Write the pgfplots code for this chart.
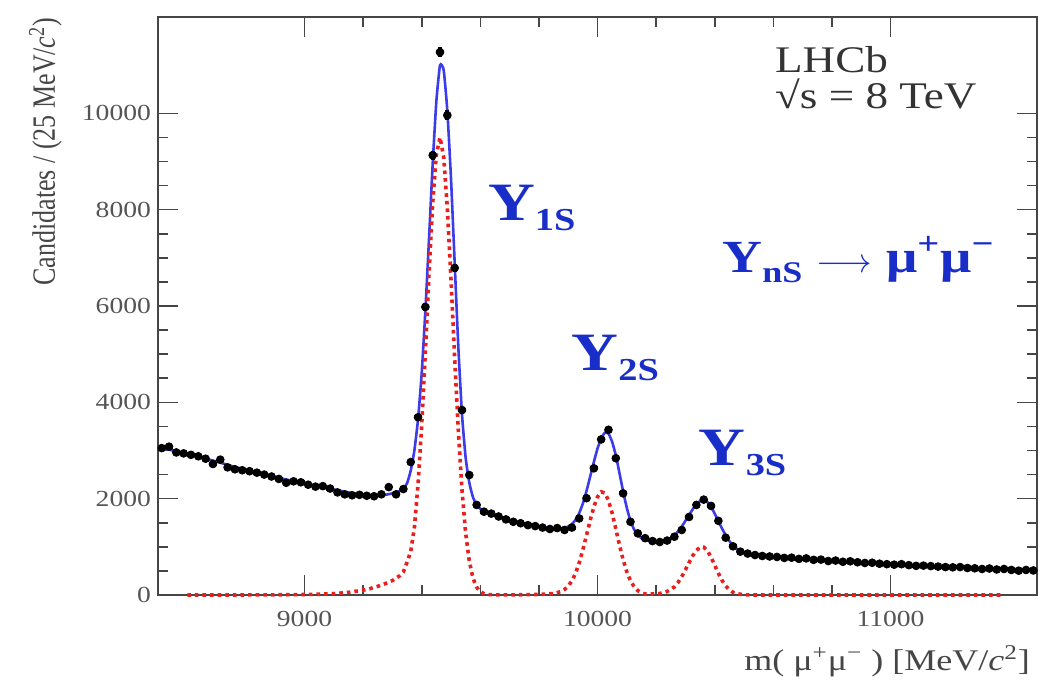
\documentclass[border=0pt]{standalone}
\usepackage{pgfplots}
\pgfplotsset{compat=1.18}
\usepackage{pgfplotstable}
\usepackage{graphicx}
\usepackage{fontspec}
\setmainfont{Liberation Serif}[FakeStretch=1.2]
\newfontfamily\plainserif{Liberation Serif}

\definecolor{fitblue}{RGB}{60,60,235}
\definecolor{labblue}{RGB}{25,45,200}
\definecolor{sigred}{RGB}{235,30,30}
\definecolor{axgray}{RGB}{70,70,70}
\definecolor{tickgray}{RGB}{85,85,85}
\definecolor{labgray}{RGB}{70,70,70}

\pgfplotstableread{
m n
8512.5 3050
8537.5 3080
8562.5 2960
8587.5 2940
8612.5 2910
8637.5 2880
8662.5 2830
8687.5 2720
8712.5 2810
8737.5 2650
8762.5 2610
8787.5 2590
8812.5 2570
8837.5 2540
8862.5 2500
8887.5 2460
8912.5 2410
8937.5 2330
8962.5 2360
8987.5 2340
9012.5 2290
9037.5 2250
9062.5 2260
9087.5 2210
9112.5 2130
9137.5 2090
9162.5 2070
9187.5 2080
9212.5 2060
9237.5 2050
9262.5 2090
9287.5 2240
9312.5 2090
9337.5 2200
9362.5 2760
9387.5 3690
9412.5 5980
9437.5 9130
9462.5 11270
9487.5 9960
9512.5 6790
9537.5 3840
9562.5 2490
9587.5 1870
9612.5 1730
9637.5 1690
9662.5 1630
9687.5 1570
9712.5 1520
9737.5 1490
9762.5 1450
9787.5 1430
9812.5 1400
9837.5 1370
9862.5 1390
9887.5 1350
9912.5 1400
9937.5 1590
9962.5 2010
9987.5 2630
10012.5 3230
10037.5 3430
10062.5 2840
10087.5 2110
10112.5 1520
10137.5 1280
10162.5 1180
10187.5 1120
10212.5 1100
10237.5 1130
10262.5 1210
10287.5 1350
10312.5 1620
10337.5 1870
10362.5 1980
10387.5 1850
10412.5 1540
10437.5 1190
10462.5 1010
10487.5 900
10512.5 860
10537.5 830
10562.5 810
10587.5 800
10612.5 790
10637.5 770
10662.5 775
10687.5 750
10712.5 760
10737.5 730
10762.5 735
10787.5 705
10812.5 715
10837.5 690
10862.5 700
10887.5 680
10912.5 665
10937.5 670
10962.5 650
10987.5 640
11012.5 630
11037.5 640
11062.5 620
11087.5 605
11112.5 610
11137.5 600
11162.5 590
11187.5 580
11212.5 575
11237.5 580
11262.5 560
11287.5 555
11312.5 540
11337.5 550
11362.5 530
11387.5 540
11412.5 520
11437.5 505
11462.5 520
11487.5 510
}\datatab

\pgfplotstableread{
m f
8500 3070
8550 3000
8600 2930
8650 2850
8700 2770
8750 2680
8800 2600
8850 2520
8900 2450
8950 2380
9000 2320
9050 2250
9100 2190
9150 2130
9200 2090
9250 2070
9275 2080
9300 2110
9325 2160
9337.5 2210
9350 2320
9362.5 2580
9375 3000
9387.5 3650
9400 4600
9412.5 5900
9425 7400
9437.5 8950
9450 10250
9462.5 11000
9475 10900
9487.5 10050
9500 8650
9512.5 6900
9525 5150
9537.5 3750
9550 2850
9562.5 2330
9575 2030
9587.5 1870
9600 1790
9625 1700
9650 1640
9700 1550
9750 1480
9800 1420
9850 1390
9875 1385
9900 1420
9912.5 1470
9925 1560
9937.5 1700
9950 1900
9962.5 2160
9975 2460
9987.5 2760
10000 3040
10012.5 3250
10025 3370
10037.5 3350
10050 3180
10062.5 2900
10075 2530
10087.5 2150
10100 1810
10112.5 1540
10125 1360
10137.5 1250
10150 1180
10175 1120
10200 1100
10225 1120
10250 1180
10262.5 1240
10275 1320
10287.5 1420
10300 1540
10312.5 1660
10325 1780
10337.5 1880
10350 1950
10362.5 1970
10375 1930
10387.5 1830
10400 1690
10412.5 1530
10425 1380
10437.5 1240
10450 1120
10462.5 1030
10475 960
10500 880
10550 810
10600 780
10700 750
10800 710
10900 675
11000 640
11100 610
11200 585
11300 560
11400 535
11500 510
}\fittab

\pgfplotstableread{
m s
8600 0
8700 0
8800 1
8900 4
9000 10
9050 16
9100 28
9150 55
9200 100
9225 135
9250 180
9275 235
9300 300
9325 400
9337.5 480
9350 680
9362.5 900
9375 1400
9387.5 2300
9400 3520
9412.5 5045
9425 6670
9437.5 8135
9450 9150
9462.5 9500
9475 9095
9487.5 8030
9500 6545
9512.5 4915
9525 3410
9537.5 2180
9550 1285
9562.5 700
9575 351
9587.5 163
9600 70
9612.5 27
9625 10
9650 4
9700 3
9750 6
9800 12
9850 30
9875 70
9887.5 115
9900 185
9912.5 295
9925 449
9937.5 668
9950 937
9962.5 1241
9975 1551
9987.5 1830
10000 2038
10012.5 2141
10025 2120
10037.5 1963
10050 1698
10062.5 1372
10075 1036
10087.5 731
10100 482
10112.5 297
10125 171
10137.5 92
10150 46
10162.5 22
10175 20
10200 20
10225 45
10237.5 73
10250 120
10262.5 168
10275 261
10287.5 381
10300 522
10312.5 673
10325 815
10337.5 927
10350 990
10362.5 992
10375 920
10387.5 786
10400 620
10412.5 451
10425 303
10437.5 188
10450 107
10462.5 56
10475 28
10500 5
10525 1
10600 0
10800 0
11000 0
11200 0
11375 0
}\sigtab

\begin{document}
\begin{tikzpicture}
\path[use as bounding box] (-79pt,-45.5pt) rectangle (447.5pt,297.5pt);
\begin{axis}[
  scale only axis, width=439.5pt, height=289pt,
  xmin=8500, xmax=11500, ymin=0, ymax=12000,
  xtick={9000,10000,11000}, minor x tick num=4,
  ytick={0,2000,4000,6000,8000,10000}, minor y tick num=3,
  tick align=inside, major tick length=10pt, minor tick length=5pt,
  axis line style={axgray, line width=0.9pt},
  every tick/.style={axgray, line width=0.8pt},
  scaled ticks=false,
  /pgf/number format/.cd, set thousands separator={}, assume math mode=true, /pgfplots/.cd,
  ticklabel style={font=\fontsize{11.5}{13}\selectfont, text=tickgray},
  xticklabel style={yshift=-4.5pt},
  clip=false,
  xlabel={m( μ\textsuperscript{+}μ\textsuperscript{−} ) [MeV/\textit{c}\textsuperscript{2}]},
  xlabel style={at={(axis description cs:1,-0.13)}, anchor=base east, font=\fontsize{15}{17}\selectfont, text=labgray},
  ylabel={\scalebox{1}[1.25]{\plainserif\fontsize{13}{15}\selectfont Candidates / (25 MeV/\textit{c}\textsuperscript{2})}},
  ylabel style={at={(axis description cs:-0.128,1.011)}, anchor=east, text=labgray},
]
\addplot[fitblue, line width=1.3pt, smooth, tension=0.3] table[x=m, y=f] {\fittab};
\addplot[sigred, line width=1.8pt, dash pattern=on 1.8pt off 2pt] table[x=m, y=s] {\sigtab};
\addplot[black, only marks, mark=*, mark size=1.95pt,
  error bars/.cd, y dir=both, y explicit, x dir=both, x explicit, error mark=none,
  error bar style={black, line width=2pt}]
  table[x=m, y=n, x error expr={12.5}, y error expr={sqrt(\thisrow{n})}] {\datatab};

\node[anchor=base west, inner sep=0pt, align=left, font=\fontsize{18.8}{18}\selectfont, text=black!80] at (axis cs:10605,10100) {LHCb\\[0pt]√s = 8 TeV};

\node[anchor=base west, inner sep=0pt, text=labblue, font=\bfseries] at (axis cs:9625,7781)
  {{\fontsize{27}{27}\selectfont Υ}\raisebox{-5pt}{\fontsize{16}{16}\selectfont 1S}};
\node[anchor=base west, inner sep=0pt, text=labblue, font=\bfseries] at (axis cs:9910,4669)
  {{\fontsize{27}{27}\selectfont Υ}\raisebox{-5pt}{\fontsize{16}{16}\selectfont 2S}};
\node[anchor=base west, inner sep=0pt, text=labblue, font=\bfseries] at (axis cs:10345,2698)
  {{\fontsize{27}{27}\selectfont Υ}\raisebox{-5pt}{\fontsize{16}{16}\selectfont 3S}};
\node[anchor=base west, inner sep=0pt, text=labblue, font=\bfseries] at (axis cs:10425,6702)
  {{\fontsize{23}{23}\selectfont Υ}\raisebox{-5pt}{\fontsize{15}{15}\selectfont nS}\hspace{7pt}{\fontsize{17}{17}\selectfont$\longrightarrow$}\hspace{7pt}{\fontsize{23}{23}\selectfont μ\textsuperscript{+}μ\textsuperscript{−}}};
\end{axis}
\end{tikzpicture}
\end{document}
